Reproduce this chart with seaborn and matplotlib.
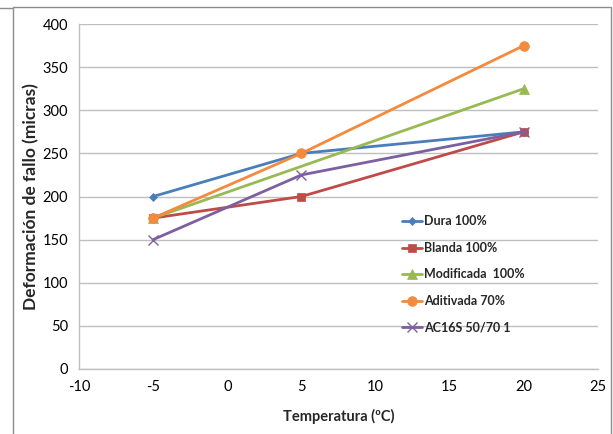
import matplotlib
matplotlib.use("Agg")
import matplotlib.pyplot as plt
import seaborn as sns
import pandas as pd
from matplotlib.patches import Rectangle

temps = [-5, 5, 20]
dura = [200, 250, 275]
blanda = [175, 200, 275]
mod_temps = [-5, 20]
modificada = [175, 325]
aditivada = [175, 250, 375]
ac16s = [150, 225, 275]

series = [
    ("Dura 100%", temps, dura, "#4A7EBB", "D", 4.5),
    ("Blanda 100%", temps, blanda, "#BE4B48", "s", 6),
    ("Modificada  100%", mod_temps, modificada, "#98B954", "^", 7),
    ("Aditivada 70%", temps, aditivada, "#F38A3D", "o", 7),
    ("AC16S 50/70 1", temps, ac16s, "#7D60A0", "x", 7),
]

sns.set_theme(style="white")
plt.rcParams['font.family'] = ['Lato', 'DejaVu Sans']
plt.rcParams['axes.unicode_minus'] = False

fig = plt.figure(figsize=(6.13, 4.34), dpi=100)
ax = fig.add_axes([79/613, 1-369/434, (598-79)/613, (369-24)/434])

for name, xs, ys, col, mk, ms in series:
    df = pd.DataFrame({"x": xs, "y": ys})
    sns.lineplot(data=df, x="x", y="y", ax=ax, color=col, marker=mk,
                 markersize=ms, linewidth=2, label=name,
                 markeredgecolor=col, markeredgewidth=1.0 if mk == "x" else 0.5)

ax.set_xlim(-10, 25)
ax.set_ylim(0, 400)
ax.set_xticks(range(-10, 26, 5))
ax.set_yticks(range(0, 401, 50))
ax.yaxis.grid(True, color="#BFBFBF", linewidth=1)
ax.xaxis.grid(False)
for s in ["top", "right"]:
    ax.spines[s].set_visible(False)
for s in ["left", "bottom"]:
    ax.spines[s].set_color("#BFBFBF")
    ax.spines[s].set_linewidth(1)
ax.tick_params(axis="both", length=0, labelsize=10.5, colors="#000000", pad=8)
ax.set_xlabel("Temperatura (ºC)", fontsize=10.5, fontweight="bold", labelpad=11)
ax.set_ylabel("Deformación de fallo (micras)", fontsize=12.5, fontweight="bold", labelpad=2)

leg = ax.legend(loc="upper left", bbox_to_anchor=(396/613, 1-209/434),
                bbox_transform=fig.transFigure, frameon=False,
                fontsize=9, handlelength=1.6, handletextpad=0.15,
                labelspacing=1.17, borderpad=0)
for t in leg.get_texts():
    t.set_fontweight("bold")

fig.patches.append(Rectangle((13/613, -0.1), (611-13)/613, 1.1 - 7/434,
                             transform=fig.transFigure, fill=False,
                             edgecolor="#8C8C8C", linewidth=1))
fig.lines.append(plt.Line2D([0, 13/613], [1-8/434, 1-8/434], transform=fig.transFigure,
                            color="#8C8C8C", linewidth=1))

fig.savefig("out.png", dpi=100)
